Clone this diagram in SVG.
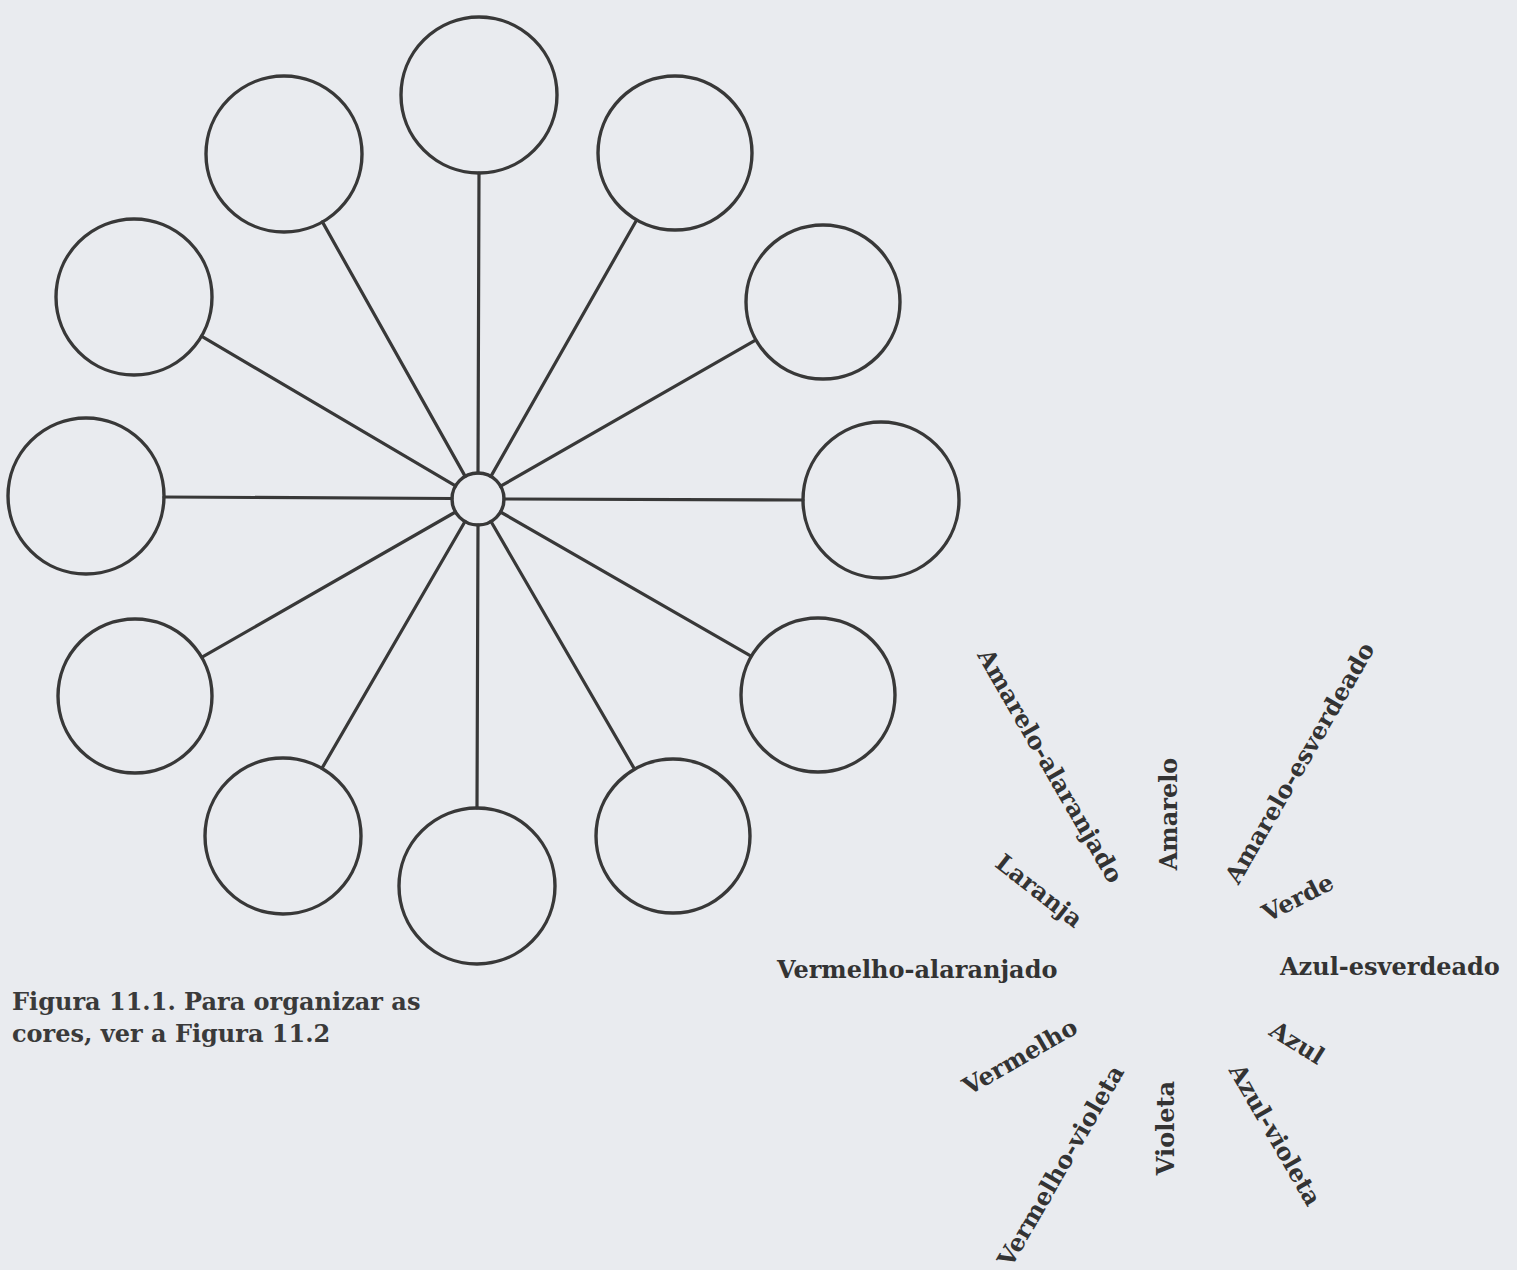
<svg xmlns="http://www.w3.org/2000/svg" width="1517" height="1270" viewBox="0 0 1517 1270">
<style>
.bg{fill:#e9ebef}
.node{fill:none;stroke:#383838;stroke-width:3.4}
.spoke{stroke:#383838;stroke-width:3.2;stroke-linecap:round}
.lbl{font-family:"DejaVu Serif","Liberation Serif",serif;font-weight:bold;font-size:24px;fill:#333}
.cap{font-family:"DejaVu Serif","Liberation Serif",serif;font-weight:bold;font-size:24px;fill:#3a3a3a}
</style>
<rect class="bg" x="0" y="0" width="1517" height="1270"/>
<g id="connectors">
<line class="spoke" x1="478" y1="473" x2="479" y2="173"/>
<line class="spoke" x1="465.2" y1="476.4" x2="322.4" y2="221.9"/>
<line class="spoke" x1="455.5" y1="485.9" x2="201.4" y2="336.2"/>
<line class="spoke" x1="452" y1="498.5" x2="164" y2="497"/>
<line class="spoke" x1="455.5" y1="512" x2="202.5" y2="656.9"/>
<line class="spoke" x1="465" y1="521.5" x2="321.9" y2="768.4"/>
<line class="spoke" x1="478" y1="525" x2="477" y2="808"/>
<line class="spoke" x1="491" y1="521.5" x2="634.1" y2="768.4"/>
<line class="spoke" x1="500.5" y1="512" x2="750.6" y2="655.8"/>
<line class="spoke" x1="504" y1="499" x2="803" y2="500"/>
<line class="spoke" x1="500.6" y1="486.2" x2="755.1" y2="340.4"/>
<line class="spoke" x1="490.9" y1="476.4" x2="636.2" y2="220.7"/>
</g>
<g id="hub"><circle class="node" cx="478" cy="499" r="26"/></g>
<g id="n-top"><circle class="node" cx="479" cy="95" r="78"/></g>
<g id="n-upper-left"><circle class="node" cx="284" cy="154" r="78"/></g>
<g id="n-left-upper"><circle class="node" cx="134" cy="297" r="78"/></g>
<g id="n-left"><circle class="node" cx="86" cy="496" r="78"/></g>
<g id="n-left-lower"><circle class="node" cx="135" cy="696" r="77"/></g>
<g id="n-lower-left"><circle class="node" cx="283" cy="836" r="78"/></g>
<g id="n-bottom"><circle class="node" cx="477" cy="886" r="78"/></g>
<g id="n-lower-right"><circle class="node" cx="673" cy="836" r="77"/></g>
<g id="n-right-lower"><circle class="node" cx="818" cy="695" r="77"/></g>
<g id="n-right"><circle class="node" cx="881" cy="500" r="78"/></g>
<g id="n-right-upper"><circle class="node" cx="823" cy="302" r="77"/></g>
<g id="n-upper-right"><circle class="node" cx="675" cy="153" r="77"/></g>
<g id="labels">
<text class="lbl" x="777" y="978">Vermelho-alaranjado</text>
<text class="lbl" x="1280" y="975">Azul-esverdeado</text>
<text class="lbl" text-anchor="middle" x="0" y="8" transform="translate(1050 766) rotate(60)">Amarelo-alaranjado</text>
<text class="lbl" text-anchor="middle" x="0" y="8" transform="translate(1039 891) rotate(38)">Laranja</text>
<text class="lbl" text-anchor="middle" x="0" y="8" transform="translate(1169 814) rotate(-90)">Amarelo</text>
<text class="lbl" text-anchor="middle" x="0" y="8" transform="translate(1300 763) rotate(-60)">Amarelo-esverdeado</text>
<text class="lbl" text-anchor="middle" x="0" y="8" transform="translate(1298 898) rotate(-27)">Verde</text>
<text class="lbl" text-anchor="middle" x="0" y="8" transform="translate(1297 1043) rotate(32)">Azul</text>
<text class="lbl" text-anchor="middle" x="0" y="8" transform="translate(1275 1135) rotate(60)">Azul-violeta</text>
<text class="lbl" text-anchor="middle" x="0" y="8" transform="translate(1166 1128) rotate(-90)">Violeta</text>
<text class="lbl" text-anchor="middle" x="0" y="8" transform="translate(1061 1166) rotate(-60)">Vermelho-violeta</text>
<text class="lbl" text-anchor="middle" x="0" y="8" transform="translate(1020 1057) rotate(-30)">Vermelho</text>
</g>
<g id="caption">
<text class="cap" x="12" y="1010">Figura 11.1. Para organizar as</text>
<text class="cap" x="12" y="1042">cores, ver a Figura 11.2</text>
</g>
</svg>
